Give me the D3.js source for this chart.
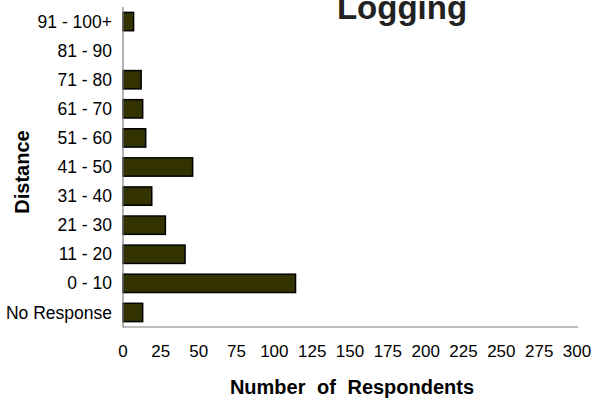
<!DOCTYPE html>
<html><head><meta charset="utf-8">
<script src="https://cdn.jsdelivr.net/npm/d3@7"></script>
<style>
html,body{margin:0;padding:0;background:#fff;}
svg{display:block;font-family:"Liberation Sans",Arial,sans-serif;}
</style>
</head><body>
<svg id="chart" width="595" height="403"></svg>
<script>
const categories = ["91 - 100+","81 - 90","71 - 80","61 - 70","51 - 60","41 - 50","31 - 40","21 - 30","11 - 20","0 - 10","No Response"];
const values = [7, 0, 12, 13, 15, 46, 19, 28, 41, 114, 13];
const xTicks = [0,25,50,75,100,125,150,175,200,225,250,275,300];
const title = "Logging";
const xTitle = "Number of Respondents";
const yTitle = "Distance";

const svg = d3.select("#chart");
const plotLeft = 123, plotRight = 577, plotTop = 7, plotBottom = 327;

const x = d3.scaleLinear().domain([0,300]).range([plotLeft,plotRight]);
const y = d3.scaleBand().domain(categories).range([plotTop,plotBottom]).paddingInner(0.37).paddingOuter(0.185);

// bars
svg.append("g").selectAll("rect").data(categories.map((c,i)=>({c,v:values[i]})).filter(d=>d.v>0))
  .join("rect")
  .attr("x", x(0))
  .attr("y", d=>y(d.c))
  .attr("width", d=>x(d.v)-x(0))
  .attr("height", y.bandwidth())
  .attr("fill","#333300")
  .attr("stroke","#000")
  .attr("stroke-width",1.5);

// axes lines
svg.append("line").attr("x1",plotLeft).attr("x2",plotLeft).attr("y1",plotTop).attr("y2",plotBottom+0.5)
  .attr("stroke","#808080").attr("stroke-width",1.2);
svg.append("line").attr("x1",plotLeft).attr("x2",plotRight+1).attr("y1",plotBottom).attr("y2",plotBottom)
  .attr("stroke","#808080").attr("stroke-width",1.2);

// category labels
svg.append("g").selectAll("text").data(categories).join("text")
  .attr("x", 112)
  .attr("y", d=>y(d)+y.bandwidth()/2)
  .attr("dy","0.35em")
  .attr("text-anchor","end")
  .attr("font-size",17.5)
  .attr("fill","#000")
  .text(d=>d);

// x tick labels
svg.append("g").selectAll("text").data(xTicks).join("text")
  .attr("x", d=>x(d))
  .attr("y", 351)
  .attr("dy","0.35em")
  .attr("text-anchor","middle")
  .attr("font-size",17)
  .attr("fill","#000")
  .text(d=>d);

// titles
svg.append("text").attr("x",402).attr("y",19).attr("text-anchor","middle")
  .attr("font-size",33).attr("font-weight","bold").attr("fill","#222").text(title);
svg.append("text").attr("x",352).attr("y",387).attr("dy","0.35em").attr("text-anchor","middle")
  .attr("font-size",20).attr("font-weight","bold").attr("word-spacing","6px").attr("fill","#000").text(xTitle);
svg.append("text").attr("transform","translate(29,172) rotate(-90)").attr("text-anchor","middle")
  .attr("font-size",20).attr("font-weight","bold").attr("fill","#000").text(yTitle);
</script>
</body></html>
